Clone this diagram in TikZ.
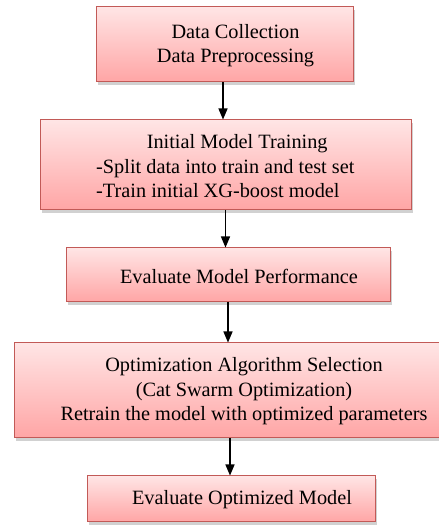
\documentclass[tikz,border=0pt]{standalone}
\usepackage{fontspec}
\setmainfont{Liberation Serif}
\usetikzlibrary{arrows.meta,shadows}
\definecolor{boxtop}{HTML}{FFE5E5}
\definecolor{boxbot}{HTML}{FFA5A5}
\definecolor{boxline}{HTML}{C25A57}
\tikzset{
  box/.style={rectangle, draw=boxline, line width=1pt, top color=boxtop, bottom color=boxbot,
    drop shadow={shadow xshift=2pt, shadow yshift=-3pt, opacity=0.3, fill=black!60}, inner sep=0pt},
  txt/.style={inner sep=0pt, font=\fontsize{20.3}{24.5}\selectfont},
  arr/.style={-{Triangle[width=9pt,length=11pt]}, line width=1.3pt, black}
}
\begin{document}
\begin{tikzpicture}[x=1pt,y=1pt]
\useasboundingbox (0,0) rectangle (439,525);
% boxes (y measured from top: 525 - px)
\node[box, minimum width=257pt, minimum height=75pt] (b1) at (224.5,{525-44.5}) {};
\node[box, minimum width=371pt, minimum height=90pt] (b2) at (225.5,{525-165}) {};
\node[box, minimum width=324pt, minimum height=54pt] (b3) at (228,{525-275}) {};
\node[box, minimum width=428pt, minimum height=95pt] (b4) at (228,{525-390.5}) {};
\node[box, minimum width=288pt, minimum height=46pt] (b5) at (231,{525-499}) {};
% texts
\node[txt, align=center] (t1) at (235.5,{525-45.5}) {Data Collection\\Data Preprocessing};
\node[txt, align=left, anchor=west] (t2) at (96,{525-166.5}) {\makebox[282pt][c]{Initial Model Training}\\-Split data into train and test set\\-Train initial XG-boost model};
\node[txt] (t3) at (239,{525-276}) {Evaluate Model Performance};
\node[txt, align=center] (t4) at (244,{525-391.5}) {Optimization Algorithm Selection\\(Cat Swarm Optimization)\\Retrain the model with optimized parameters};
\node[txt] (t5) at (242,{525-500}) {Evaluate Optimized Model};
% arrows
\draw[arr] ([xshift=-1.5pt]b1.south) -- ([xshift=-1.5pt]b1.south |- b2.north);
\draw[arr] (b2.south) -- (b2.south |- b3.north);
\draw[arr] (b3.south) -- (b3.south |- b4.north);
\draw[arr] ([xshift=-1pt]b5.north |- b4.south) -- ([xshift=-1pt]b5.north);
\end{tikzpicture}
\end{document}
